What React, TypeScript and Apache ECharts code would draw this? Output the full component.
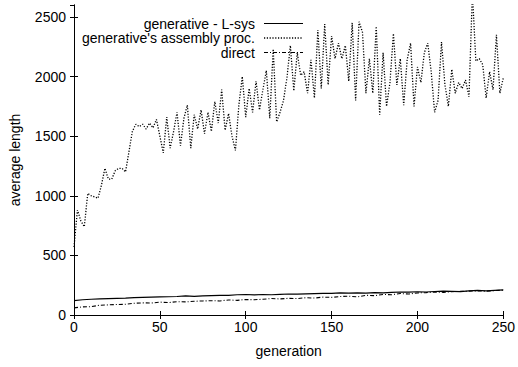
import React, { useEffect, useRef } from "react";
import * as echarts from "echarts";

// generation step of the dotted series (every 2nd generation)
const asmGenStep = 2;
const asmValues = [
  570, 880, 790, 740, 1020, 1000, 990, 980, 1090, 1230,
  1140, 1140, 1210, 1230, 1230, 1200, 1370, 1540, 1600, 1580,
  1600, 1560, 1610, 1570, 1640, 1500, 1360, 1660, 1400, 1540,
  1700, 1420, 1650, 1760, 1400, 1680, 1560, 1720, 1520, 1700,
  1540, 1790, 1610, 1890, 1550, 1690, 1500, 1380, 1760, 2000,
  1660, 1900, 1700, 1960, 1720, 1890, 2050, 1650, 2230, 1620,
  1700, 1800, 1990, 2260, 1880, 2200, 2010, 2040, 1860, 2140,
  1820, 2390, 1900, 2440, 1930, 2340, 2150, 2280, 2150, 2260,
  1960, 2450, 1800, 2460, 2370, 1860, 2150, 1860, 2420, 1680,
  2200, 1750, 1950, 2360, 1930, 2150, 1760, 2140, 2280, 1750,
  2080, 1950, 2200, 2280, 2040, 1700, 1800, 2290, 1930, 1750,
  2060, 1860, 1950, 1900, 1970, 1830, 2700, 2130, 2150, 2100,
  1820, 2040, 1890, 2350, 1860, 1990,
];

// every 5th generation
const lowGenStep = 5;
const lsysValues = [
  120, 128, 132, 135, 138, 140, 142, 146, 148, 150,
  152, 153, 155, 160, 157, 160, 162, 164, 165, 170,
  172, 168, 172, 170, 173, 176, 175, 178, 180, 182,
  181, 185, 183, 186, 184, 188, 186, 190, 193, 192,
  195, 193, 197, 200, 198, 196, 202, 206, 203, 207, 210,
];
const directValues = [
  60, 68, 70, 82, 85, 88, 90, 98, 102, 100,
  108, 104, 112, 110, 115, 118, 120, 118, 126, 123,
  130, 128, 132, 138, 135, 140, 138, 145, 142, 150,
  148, 155, 158, 152, 165, 162, 172, 170, 180, 176,
  185, 188, 192, 190, 196, 198, 200, 202, 200, 205, 207,
];

const seriesNames = [
  "generative - L-sys",
  "generative's assembly proc.",
  "direct",
];

const FONT = "Liberation Sans, Arial, Helvetica, sans-serif";

const lineStyles: any[] = [
  { color: "#000", width: 1.2, type: "solid" },
  { color: "#000", width: 1.3, type: [1.2, 1.6] },
  { color: "#000", width: 1.1, type: [4, 2, 1, 2] },
];

export default function App() {
  const ref = useRef<HTMLDivElement>(null);
  useEffect(() => {
    document.body.style.margin = "0";
    const chart = echarts.init(ref.current!, null, { renderer: "svg" });
    const toPairs = (vals: number[], step: number) =>
      vals.map((v, i) => [i * step, v]);
    const axisCommon = {
      type: "value" as const,
      axisLine: { show: true, lineStyle: { color: "#000", width: 1 } },
      axisTick: { show: true, inside: true, length: 4, lineStyle: { color: "#000" } },
      splitLine: { show: false },
    };
    const legendRows = [23.5, 38, 52.5];
    const legendGraphics: any[] = [];
    seriesNames.forEach((n, i) => {
      legendGraphics.push({
        type: "text",
        x: 255,
        y: legendRows[i],
        style: {
          text: n,
          fill: "#000",
          font: `14px ${FONT}`,
          align: "right",
          verticalAlign: "middle",
        },
      });
      legendGraphics.push({
        type: "line",
        shape: { x1: 264, y1: legendRows[i], x2: 303, y2: legendRows[i] },
        style: {
          stroke: "#000",
          lineWidth: lineStyles[i].width,
          lineDash: Array.isArray(lineStyles[i].type) ? lineStyles[i].type : null,
        },
      });
    });
    chart.setOption({
      animation: false,
      backgroundColor: "#fff",
      textStyle: { fontFamily: FONT },
      grid: { left: 74, right: 13, top: 5, bottom: 52, containLabel: false },
      graphic: legendGraphics,
      xAxis: [
        {
          ...axisCommon,
          min: 0,
          max: 250,
          interval: 50,
          position: "bottom",
          name: "generation",
          nameLocation: "middle",
          nameGap: 29,
          nameTextStyle: { fontFamily: FONT, fontSize: 14, color: "#000" },
          axisLabel: { fontFamily: FONT, fontSize: 14, color: "#000", margin: 5, formatter: (v: number) => String(v) },
        },
        {
          ...axisCommon,
          min: 0,
          max: 250,
          interval: 50,
          position: "top",
          axisLabel: { show: false },
        },
      ],
      yAxis: [
        {
          ...axisCommon,
          min: 0,
          max: 2600,
          interval: 500,
          position: "left",
          name: "average length",
          nameLocation: "middle",
          nameGap: 52,
          nameTextStyle: { fontFamily: FONT, fontSize: 14, color: "#000" },
          axisLabel: {
            fontFamily: FONT,
            fontSize: 14,
            color: "#000",
            margin: 8,
            showMaxLabel: false,
            formatter: (v: number) => String(v),
          },
        },
        {
          ...axisCommon,
          min: 0,
          max: 2600,
          interval: 500,
          position: "right",
          axisLabel: { show: false },
        },
      ],
      series: [
        {
          name: seriesNames[0],
          type: "line",
          data: toPairs(lsysValues, lowGenStep),
          showSymbol: false,
          symbol: "none",
          lineStyle: lineStyles[0],
        },
        {
          name: seriesNames[1],
          type: "line",
          data: toPairs(asmValues, asmGenStep),
          showSymbol: false,
          symbol: "none",
          lineStyle: lineStyles[1],
        },
        {
          name: seriesNames[2],
          type: "line",
          data: toPairs(directValues, lowGenStep),
          showSymbol: false,
          symbol: "none",
          lineStyle: lineStyles[2],
        },
      ],
    });
    return () => chart.dispose();
  }, []);
  return <div ref={ref} style={{ width: 518, height: 367 }} />;
}
